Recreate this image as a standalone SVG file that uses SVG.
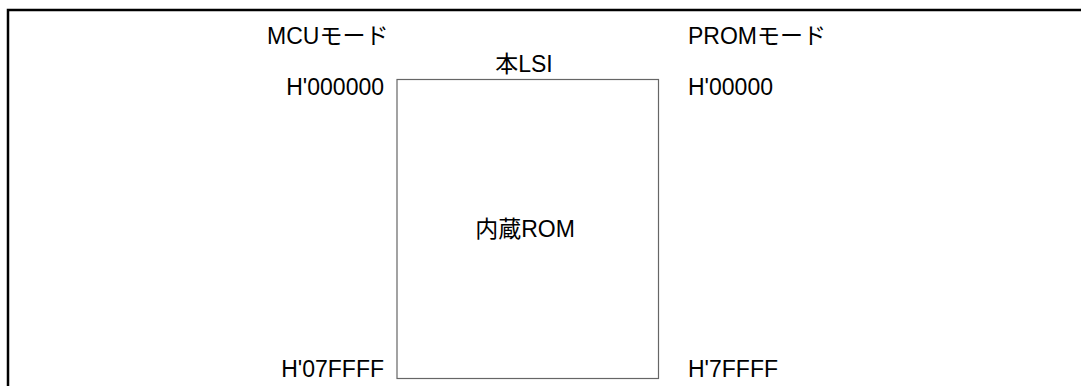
<svg xmlns="http://www.w3.org/2000/svg" width="1081" height="386" viewBox="0 0 1081 386">
<style>
text{font-family:"Liberation Sans","Noto Sans CJK JP",sans-serif;font-size:23px;fill:#000}
.frame{fill:none;stroke:#000;stroke-width:2.5}
.box{fill:#fff;stroke:#666;stroke-width:1.2}
</style>
<rect width="1081" height="386" fill="#fff"/>
<g id="frame">
<path class="frame" d="M8,386 V10 H1081"/>
</g>
<g id="labels">
<text x="267" y="44">MCUモード</text>
<text x="688" y="44">PROMモード</text>
<text x="384" y="95" text-anchor="end">H'000000</text>
<text x="688" y="95">H'00000</text>
<text x="384" y="377" text-anchor="end">H'07FFFF</text>
<text x="688" y="377">H'7FFFF</text>
</g>
<g id="lsi">
<text x="524" y="72" text-anchor="middle">本LSI</text>
<rect class="box" x="397" y="79.5" width="261.5" height="299"/>
<text x="525" y="237" text-anchor="middle">内蔵ROM</text>
</g>
<g id="connectors"></g>
</svg>
